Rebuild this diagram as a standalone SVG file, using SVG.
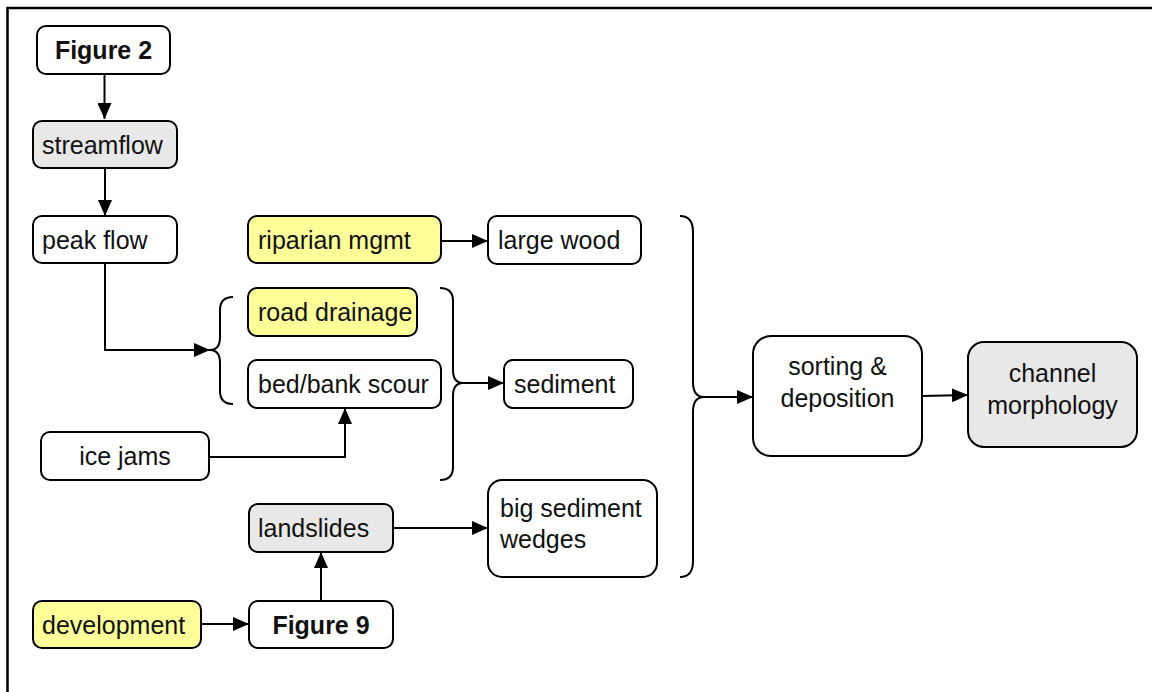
<svg xmlns="http://www.w3.org/2000/svg" width="1152" height="692" viewBox="0 0 1152 692">
<defs>
<style>
.box{stroke:#000;stroke-width:2;fill:#fff}
.grey{fill:#e8e8e8}
.yel{fill:#ffff99}
text{font-family:"Liberation Sans",Arial,sans-serif;font-size:25px;fill:#111}
.b{font-weight:bold}
.c{text-anchor:middle}
.ln{fill:none;stroke:#000;stroke-width:2}
</style>
<marker id="a" viewBox="0 0 16 14" refX="16" refY="7" markerWidth="16" markerHeight="14" markerUnits="userSpaceOnUse" orient="auto">
<path d="M0,0 L16,7 L0,14 z" fill="#000"/>
</marker>
</defs>
<rect x="0" y="0" width="1152" height="692" fill="#fff"/>
<path d="M7.5,700 V8 H1160" fill="none" stroke="#000" stroke-width="2.5"/>

<g id="connectors">
<path d="M104.5,74 V119" class="ln" marker-end="url(#a)"/>
<path d="M105,168 V216" class="ln" marker-end="url(#a)"/>
<path d="M441,241 H488" class="ln" marker-end="url(#a)"/>
<path d="M105,263 V350 H210" class="ln" marker-end="url(#a)"/>
<path d="M209,457 H345 V408" class="ln" marker-end="url(#a)"/>
<path d="M463,383 H504" class="ln" marker-end="url(#a)"/>
<path d="M201,624 H249" class="ln" marker-end="url(#a)"/>
<path d="M321,601 V552" class="ln" marker-end="url(#a)"/>
<path d="M393,528 H488" class="ln" marker-end="url(#a)"/>
<path d="M704,397 H753" class="ln" marker-end="url(#a)"/>
<path d="M922,396 L968,395" class="ln" marker-end="url(#a)"/>
</g>

<g id="braces">
<path d="M233,297 Q220,297 220,310 V337 Q220,350 210,350 Q220,350 220,363 V391 Q220,404 233,404" class="ln"/>
<path d="M440,288 Q453,288 453,301 V370 Q453,383 463,383 Q453,383 453,396 V467 Q453,480 440,480" class="ln"/>
<path d="M680,216 Q693,216 693,232 V382 Q693,397 704,397 Q693,397 693,412 V561 Q693,577 680,577" class="ln"/>
</g>

<g id="figure2"><rect x="37" y="26" width="133" height="48" rx="9" class="box"/><text x="103.5" y="59" class="b c">Figure 2</text></g>
<g id="streamflow"><rect x="33" y="121" width="144" height="47" rx="9" class="box grey"/><text x="42" y="154">streamflow</text></g>
<g id="peakflow"><rect x="33" y="216" width="144" height="47" rx="9" class="box"/><text x="42" y="249">peak flow</text></g>
<g id="riparian"><rect x="248" y="216" width="193" height="47" rx="9" class="box yel"/><text x="258" y="249">riparian mgmt</text></g>
<g id="largewood"><rect x="488" y="216" width="153" height="48" rx="9" class="box"/><text x="498" y="249">large wood</text></g>
<g id="roaddrainage"><rect x="248" y="288" width="169" height="48" rx="9" class="box yel"/><text x="258" y="321">road drainage</text></g>
<g id="bedbank"><rect x="248" y="360" width="193" height="48" rx="9" class="box"/><text x="258" y="393">bed/bank scour</text></g>
<g id="sediment"><rect x="504" y="360" width="129" height="48" rx="9" class="box"/><text x="514" y="393">sediment</text></g>
<g id="icejams"><rect x="41" y="432" width="168" height="48" rx="9" class="box"/><text x="125" y="465" class="c">ice jams</text></g>
<g id="landslides"><rect x="249" y="504" width="144" height="48" rx="9" class="box grey"/><text x="258" y="537">landslides</text></g>
<g id="bigsediment"><rect x="488" y="480" width="169" height="97" rx="14" class="box"/><text x="500" y="517">big sediment</text><text x="500" y="548">wedges</text></g>
<g id="development"><rect x="33" y="601" width="168" height="47" rx="9" class="box yel"/><text x="42" y="634">development</text></g>
<g id="figure9"><rect x="249" y="601" width="144" height="47" rx="9" class="box"/><text x="321" y="634" class="b c">Figure 9</text></g>
<g id="sorting"><rect x="753" y="336" width="169" height="120" rx="18" class="box"/><text x="837.5" y="375" class="c">sorting &amp;</text><text x="837.5" y="407" class="c">deposition</text></g>
<g id="channel"><rect x="968" y="342" width="169" height="105" rx="16" class="box grey"/><text x="1052.5" y="382" class="c">channel</text><text x="1052.5" y="414" class="c">morphology</text></g>
</svg>
